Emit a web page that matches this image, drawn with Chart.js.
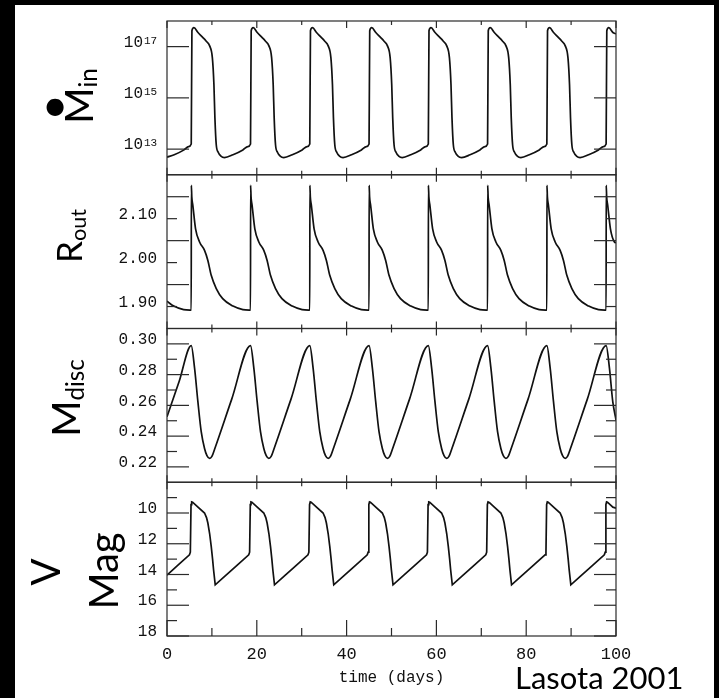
<!DOCTYPE html>
<html>
<head>
<meta charset="utf-8">
<script src="https://cdn.jsdelivr.net/npm/chart.js@4.4.1/dist/chart.umd.min.js"></script>
<style>
  html, body { margin: 0; padding: 0; background: #000; }
  body { width: 719px; height: 698px; position: relative; overflow: hidden; }
  #sheet { position: absolute; left: 15px; top: 5px; width: 699px; height: 693px; background: #fff; }
  #plot { position: absolute; left: 0; top: 0; }
  .ttl { position: absolute; font-family: Lato, "Open Sans", sans-serif; color: #000; white-space: nowrap;
         line-height: 1; transform: translate(-50%, -50%) rotate(-90deg); }
  .ttl sub { font-size: 0.62em; vertical-align: -0.2em; line-height: 0; }
  .dot { position: absolute; font-family: Lato, sans-serif; line-height: 1; transform: translate(-50%, -50%); color: #000; }
  #credit { position: absolute; left: 515px; top: 662px; font-family: Lato, sans-serif; font-size: 31px; line-height: 1; color: #000; }
</style>
</head>
<body>
<div id="sheet"></div>
<canvas id="plot" width="719" height="698"></canvas>

<div class="ttl" style="left:78px; top:96px; font-size:39px;">M<sub>in</sub></div>
<div class="dot" style="left:55px; top:104px; font-size:46px;">•</div>
<div class="ttl" style="left:68px; top:236px; font-size:35px;">R<sub>out</sub></div>
<div class="ttl" style="left:65px; top:398px; font-size:39px;">M<sub>disc</sub></div>
<div class="ttl" style="left:45px; top:572px; font-size:40px;">V</div>
<div class="ttl" style="left:103px; top:571px; font-size:40px;">Mag</div>
<div id="credit">Lasota 2001</div>

<script>
// ---- data (time in days) ----

// accretion rate onto the white dwarf, log10 values
const mdotDays = [
  0, 1.6, 3.8, 4.8,
  5.4, 5.55, 6.0, 6.9, 7.9, 8.7, 9.5, 10.1, 10.45, 10.67, 10.97, 11.4, 12.0, 12.8, 14.7, 16.9, 18.0,
  18.6, 18.75, 19.2, 20.1, 21.1, 21.9, 22.7, 23.3, 23.65, 23.87, 24.17, 24.6, 25.2, 26.0, 27.9, 30.1, 31.2,
  31.8, 31.95, 32.4, 33.3, 34.3, 35.1, 35.9, 36.5, 36.85, 37.07, 37.37, 37.8, 38.4, 39.2, 41.1, 43.3, 44.4,
  45.0, 45.15, 45.6, 46.5, 47.5, 48.3, 49.1, 49.7, 50.05, 50.27, 50.57, 51.0, 51.6, 52.4, 54.3, 56.5, 57.6,
  58.2, 58.35, 58.8, 59.7, 60.7, 61.5, 62.3, 62.9, 63.25, 63.47, 63.77, 64.2, 64.8, 65.6, 67.5, 69.7, 70.8,
  71.4, 71.55, 72.0, 72.9, 73.9, 74.7, 75.5, 76.1, 76.45, 76.67, 76.97, 77.4, 78.0, 78.8, 80.7, 82.9, 84.0,
  84.6, 84.75, 85.2, 86.1, 87.1, 87.9, 88.7, 89.3, 89.65, 89.87, 90.17, 90.6, 91.2, 92.0, 93.9, 96.1, 97.2,
  97.8, 97.95, 98.4, 99.3, 100
];
const mdotExp = [
  12.69, 12.78, 12.97, 13.1,
  13.2, 17.62, 17.74, 17.55, 17.37, 17.22, 17.03, 16.57, 15.52, 14.22, 13.17, 12.88, 12.73, 12.67, 12.78, 12.97, 13.1,
  13.2, 17.62, 17.74, 17.55, 17.37, 17.22, 17.03, 16.57, 15.52, 14.22, 13.17, 12.88, 12.73, 12.67, 12.78, 12.97, 13.1,
  13.2, 17.62, 17.74, 17.55, 17.37, 17.22, 17.03, 16.57, 15.52, 14.22, 13.17, 12.88, 12.73, 12.67, 12.78, 12.97, 13.1,
  13.2, 17.62, 17.74, 17.55, 17.37, 17.22, 17.03, 16.57, 15.52, 14.22, 13.17, 12.88, 12.73, 12.67, 12.78, 12.97, 13.1,
  13.2, 17.62, 17.74, 17.55, 17.37, 17.22, 17.03, 16.57, 15.52, 14.22, 13.17, 12.88, 12.73, 12.67, 12.78, 12.97, 13.1,
  13.2, 17.62, 17.74, 17.55, 17.37, 17.22, 17.03, 16.57, 15.52, 14.22, 13.17, 12.88, 12.73, 12.67, 12.78, 12.97, 13.1,
  13.2, 17.62, 17.74, 17.55, 17.37, 17.22, 17.03, 16.57, 15.52, 14.22, 13.17, 12.88, 12.73, 12.67, 12.78, 12.97, 13.1,
  13.2, 17.62, 17.74, 17.55, 17.5
];

// outer disc radius
const routDays = [
  0, 1.5, 3.7, 5.1,
  5.4, 5.42, 5.52, 5.76, 6.36, 7.25, 8.36, 9.1, 9.85, 10.97, 12.4, 14.7, 16.9, 18.3,
  18.6, 18.62, 18.72, 18.96, 19.56, 20.45, 21.56, 22.3, 23.05, 24.17, 25.6, 27.9, 30.1, 31.5,
  31.8, 31.82, 31.92, 32.16, 32.76, 33.65, 34.76, 35.5, 36.25, 37.37, 38.8, 41.1, 43.3, 44.7,
  45.0, 45.02, 45.12, 45.36, 45.96, 46.85, 47.96, 48.7, 49.45, 50.57, 52.0, 54.3, 56.5, 57.9,
  58.2, 58.22, 58.32, 58.56, 59.16, 60.05, 61.16, 61.9, 62.65, 63.77, 65.2, 67.5, 69.7, 71.1,
  71.4, 71.42, 71.52, 71.76, 72.36, 73.25, 74.36, 75.1, 75.85, 76.97, 78.4, 80.7, 82.9, 84.3,
  84.6, 84.62, 84.72, 84.96, 85.56, 86.45, 87.56, 88.3, 89.05, 90.17, 91.6, 93.9, 96.1, 97.5,
  97.8, 97.82, 97.92, 98.16, 98.76, 99.65, 100
];
const routVals = [
  1.912, 1.901, 1.893, 1.892,
  1.892, 2.176, 2.150, 2.130, 2.077, 2.047, 2.028, 2.005, 1.971, 1.941, 1.918, 1.901, 1.893, 1.892,
  1.892, 2.176, 2.150, 2.130, 2.077, 2.047, 2.028, 2.005, 1.971, 1.941, 1.918, 1.901, 1.893, 1.892,
  1.892, 2.176, 2.150, 2.130, 2.077, 2.047, 2.028, 2.005, 1.971, 1.941, 1.918, 1.901, 1.893, 1.892,
  1.892, 2.176, 2.150, 2.130, 2.077, 2.047, 2.028, 2.005, 1.971, 1.941, 1.918, 1.901, 1.893, 1.892,
  1.892, 2.176, 2.150, 2.130, 2.077, 2.047, 2.028, 2.005, 1.971, 1.941, 1.918, 1.901, 1.893, 1.892,
  1.892, 2.176, 2.150, 2.130, 2.077, 2.047, 2.028, 2.005, 1.971, 1.941, 1.918, 1.901, 1.893, 1.892,
  1.892, 2.176, 2.150, 2.130, 2.077, 2.047, 2.028, 2.005, 1.971, 1.941, 1.918, 1.901, 1.893, 1.892,
  1.892, 2.176, 2.150, 2.130, 2.077, 2.047, 2.045
];

// disc mass
const mdiscDays = [
  0, 2.7,
  5.4, 6.14, 6.88, 7.62, 8.36, 8.9, 9.48, 10.0, 10.6, 14.4,
  18.6, 19.34, 20.08, 20.82, 21.56, 22.1, 22.68, 23.2, 23.8, 27.6,
  31.8, 32.54, 33.28, 34.02, 34.76, 35.3, 35.88, 36.4, 37.0, 40.8,
  45.0, 45.74, 46.48, 47.22, 47.96, 48.5, 49.08, 49.6, 50.2, 54.0,
  58.2, 58.94, 59.68, 60.42, 61.16, 61.7, 62.28, 62.8, 63.4, 67.2,
  71.4, 72.14, 72.88, 73.62, 74.36, 74.9, 75.48, 76.0, 76.6, 80.4,
  84.6, 85.34, 86.08, 86.82, 87.56, 88.1, 88.68, 89.2, 89.8, 93.6,
  97.8, 98.54, 99.28, 100
];
const mdiscVals = [
  0.2526, 0.2755,
  0.2989, 0.2842, 0.2624, 0.2429, 0.2320, 0.2273, 0.2255, 0.2268, 0.2315, 0.2639,
  0.2989, 0.2842, 0.2624, 0.2429, 0.2320, 0.2273, 0.2255, 0.2268, 0.2315, 0.2639,
  0.2989, 0.2842, 0.2624, 0.2429, 0.2320, 0.2273, 0.2255, 0.2268, 0.2315, 0.2639,
  0.2989, 0.2842, 0.2624, 0.2429, 0.2320, 0.2273, 0.2255, 0.2268, 0.2315, 0.2639,
  0.2989, 0.2842, 0.2624, 0.2429, 0.2320, 0.2273, 0.2255, 0.2268, 0.2315, 0.2639,
  0.2989, 0.2842, 0.2624, 0.2429, 0.2320, 0.2273, 0.2255, 0.2268, 0.2315, 0.2639,
  0.2989, 0.2842, 0.2624, 0.2429, 0.2320, 0.2273, 0.2255, 0.2268, 0.2315, 0.2639,
  0.2989, 0.2842, 0.2624, 0.2505
];

// V magnitude
const magDays = [
  0, 2.5,
  5.0, 5.2, 5.35, 5.5, 5.7, 6.9, 8.36, 8.8, 9.1, 9.5, 9.85, 10.15, 10.37, 10.74, 12.9, 15.4,
  18.2, 18.4, 18.55, 18.7, 18.9, 20.1, 21.56, 22.0, 22.3, 22.7, 23.05, 23.35, 23.57, 23.94, 26.1, 28.6,
  31.4, 31.6, 31.75, 31.9, 32.1, 33.3, 34.76, 35.2, 35.5, 35.9, 36.25, 36.55, 36.77, 37.14, 39.3, 41.8,
  44.6, 44.8, 44.95, 45.1, 45.3, 46.5, 47.96, 48.4, 48.7, 49.1, 49.45, 49.75, 49.97, 50.34, 52.5, 55.0,
  57.8, 58.0, 58.15, 58.3, 58.5, 59.7, 61.16, 61.6, 61.9, 62.3, 62.65, 62.95, 63.17, 63.54, 65.7, 68.2,
  71.0, 71.2, 71.35, 71.5, 71.7, 72.9, 74.36, 74.8, 75.1, 75.5, 75.85, 76.15, 76.37, 76.74, 78.9, 81.4,
  84.2, 84.4, 84.55, 84.7, 84.9, 86.1, 87.56, 88.0, 88.3, 88.7, 89.05, 89.35, 89.57, 89.94, 92.1, 94.6,
  97.4, 97.6, 97.75, 97.9, 98.1, 99.3, 100
];
const magVals = [
  14.04, 13.37,
  12.72, 12.55, 9.45, 9.28, 9.3, 9.62, 10.0, 10.3, 10.65, 11.35, 12.17, 13.0, 13.69, 14.67, 14.11, 13.45,
  12.72, 12.55, 9.45, 9.28, 9.3, 9.62, 10.0, 10.3, 10.65, 11.35, 12.17, 13.0, 13.69, 14.67, 14.11, 13.45,
  12.72, 12.55, 9.45, 9.28, 9.3, 9.62, 10.0, 10.3, 10.65, 11.35, 12.17, 13.0, 13.69, 14.67, 14.11, 13.45,
  12.72, 12.55, 9.45, 9.28, 9.3, 9.62, 10.0, 10.3, 10.65, 11.35, 12.17, 13.0, 13.69, 14.67, 14.11, 13.45,
  12.72, 12.55, 9.45, 9.28, 9.3, 9.62, 10.0, 10.3, 10.65, 11.35, 12.17, 13.0, 13.69, 14.67, 14.11, 13.45,
  12.72, 12.55, 9.45, 9.28, 9.3, 9.62, 10.0, 10.3, 10.65, 11.35, 12.17, 13.0, 13.69, 14.67, 14.11, 13.45,
  12.72, 12.55, 9.45, 9.28, 9.3, 9.62, 10.0, 10.3, 10.65, 11.35, 12.17, 13.0, 13.69, 14.67, 14.11, 13.45,
  12.72, 12.55, 9.45, 9.28, 9.3, 9.62, 9.68
];

// ticks
const dayTicks = [0, 20, 40, 60, 80, 100];
const dayMinor = [10, 30, 50, 70, 90];
const mdotTicks = [1e13, 1e15, 1e17];
const routTicks = [1.90, 2.00, 2.10];       // labelled, short marks
const routLong = [1.95, 2.05, 2.15];        // unlabelled, long marks
const mdiscTicks = [0.22, 0.24, 0.26, 0.28, 0.30];
const mdiscMinor = [0.23, 0.25, 0.27, 0.29];
const magTicks = [10, 12, 14, 16, 18];
const magMinor = [9, 11, 13, 15, 17];

const panelIds = ['yMdot', 'yRout', 'yMdisc', 'yMag'];
const longMarks = { yMdot: mdotTicks, yRout: routLong, yMdisc: mdiscTicks, yMag: magTicks };
const shortMarks = { yMdot: [], yRout: routTicks, yMdisc: mdiscMinor, yMag: magMinor };

const tickFont = { family: '"Liberation Mono", monospace', size: 16 };

function pairs(xs, ys) {
  return xs.map((x, i) => ({ x: x, y: ys[i] }));
}

function seg(ctx, x1, y1, x2, y2) {
  ctx.beginPath();
  ctx.moveTo(x1, y1);
  ctx.lineTo(x2, y2);
  ctx.stroke();
}

// frames + inward tick marks on all four sides of every panel
const panelFrames = {
  id: 'panelFrames',
  afterDraw(chart) {
    const { ctx, chartArea: area, scales } = chart;
    const xs = scales.x;
    ctx.save();
    ctx.strokeStyle = '#2a2a2a';
    ctx.lineWidth = 1.2;
    panelIds.forEach((id, i) => {
      const s = scales[id];
      const last = i === panelIds.length - 1;
      ctx.strokeRect(area.left, s.top, area.right - area.left, s.bottom - s.top);
      dayTicks.forEach(d => {
        const px = xs.getPixelForValue(d);
        seg(ctx, px, s.top, px, s.top + 7);
        seg(ctx, px, s.bottom, px, s.bottom - (last ? 16 : 7));
      });
      dayMinor.forEach(d => {
        const px = xs.getPixelForValue(d);
        seg(ctx, px, s.top, px, s.top + 4);
        seg(ctx, px, s.bottom, px, s.bottom - (last ? 8 : 4));
      });
      longMarks[id].forEach(v => {
        const py = s.getPixelForValue(v);
        seg(ctx, area.left, py, area.left + 22, py);
        seg(ctx, area.right, py, area.right - 22, py);
      });
      shortMarks[id].forEach(v => {
        const py = s.getPixelForValue(v);
        seg(ctx, area.left, py, area.left + 10, py);
        seg(ctx, area.right, py, area.right - 10, py);
      });
    });

    // 10^n labels of the log panel
    const sm = scales.yMdot;
    ctx.fillStyle = '#111';
    mdotTicks.forEach(v => {
      const py = sm.getPixelForValue(v) - 4;
      ctx.font = '16px "Liberation Mono"';
      ctx.textAlign = 'right';
      ctx.textBaseline = 'middle';
      ctx.fillText('10', area.left - 24, py);
      ctx.font = '11px "Liberation Mono"';
      ctx.textAlign = 'left';
      ctx.textBaseline = 'alphabetic';
      ctx.fillText(String(Math.round(Math.log10(v))), area.left - 23, py + 1);
    });
    ctx.restore();
  }
};

function panelAxis(opts, labelTicks, fmt) {
  return Object.assign({
    position: 'left',
    stack: 'panels',
    stackWeight: 1,
    grid: { display: false, drawTicks: false },
    border: { display: false },
    ticks: { font: tickFont, color: '#111', padding: 10, labelOffset: -4, autoSkip: false, callback: fmt },
    afterBuildTicks(s) { s.ticks = labelTicks.map(v => ({ value: v })); },
    afterFit(s) { s.width = 167; }
  }, opts);
}

const lineStyle = { borderColor: '#111', borderWidth: 1.7, pointRadius: 0 };

new Chart(document.getElementById('plot'), {
  type: 'line',
  data: {
    datasets: [
      Object.assign({ data: pairs(mdotDays, mdotExp.map(e => Math.pow(10, e))), yAxisID: 'yMdot', cubicInterpolationMode: 'monotone' }, lineStyle),
      Object.assign({ data: pairs(routDays, routVals), yAxisID: 'yRout', cubicInterpolationMode: 'monotone' }, lineStyle),
      Object.assign({ data: pairs(mdiscDays, mdiscVals), yAxisID: 'yMdisc', cubicInterpolationMode: 'monotone' }, lineStyle),
      Object.assign({ data: pairs(magDays, magVals), yAxisID: 'yMag', tension: 0 }, lineStyle)
    ]
  },
  options: {
    responsive: false,
    animation: false,
    layout: { padding: { left: 0, right: 103, top: 21, bottom: 0 } },
    plugins: { legend: { display: false }, tooltip: { enabled: false } },
    scales: {
      x: {
        type: 'linear', min: 0, max: 100,
        grid: { display: false, drawTicks: false },
        border: { display: false },
        ticks: { stepSize: 20, font: { family: '"Liberation Mono", monospace', size: 17 }, color: '#111', padding: 8, maxRotation: 0 },
        title: { display: true, text: 'time (days)', font: { family: '"Liberation Mono", monospace', size: 16 }, color: '#111', padding: { top: 11, bottom: 11 } },
        afterFit(s) { s.height = 62; }
      },
      yMdot: panelAxis({ type: 'logarithmic', min: 1e12, max: 1e18, weight: 4, ticks: { display: false } }, mdotTicks, v => ''),
      yRout: panelAxis({ type: 'linear', min: 1.85, max: 2.20, weight: 3 }, routTicks, v => v.toFixed(2)),
      yMdisc: panelAxis({ type: 'linear', min: 0.21, max: 0.31, weight: 2 }, mdiscTicks, v => v.toFixed(2)),
      yMag: panelAxis({ type: 'linear', min: 8, max: 18, reverse: true, weight: 1 }, magTicks, v => String(v))
    }
  },
  plugins: [panelFrames]
});
</script>
</body>
</html>
